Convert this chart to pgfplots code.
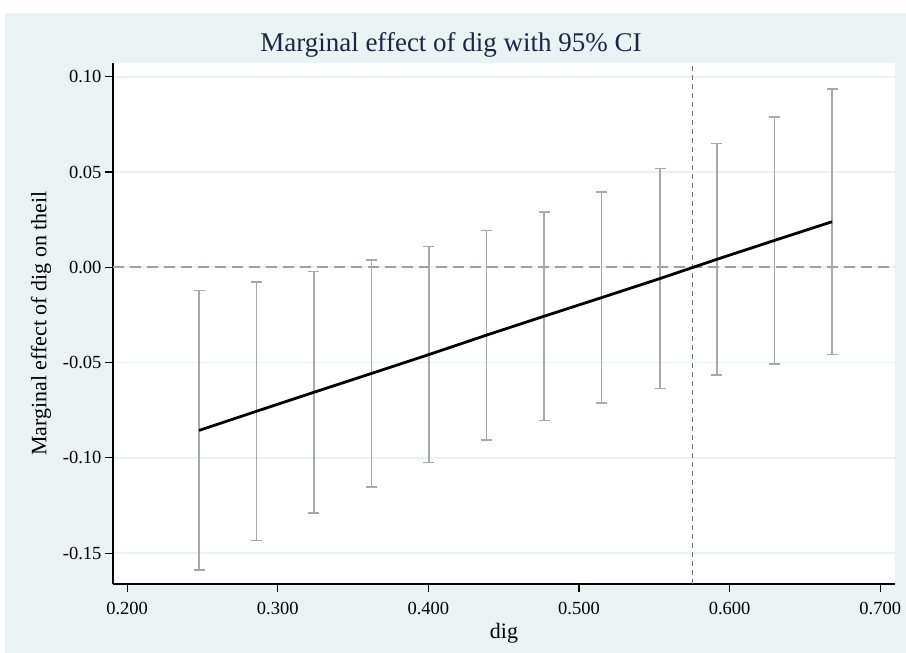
\documentclass[border=0pt]{standalone}
\usepackage{fontspec}
\setmainfont{Liberation Serif}
\usepackage{pgfplots}
\pgfplotsset{compat=1.18}
\usepackage{pgfplotstable}

\definecolor{bgcol}{RGB}{234,242,243}
\definecolor{titlecol}{RGB}{28,37,71}
\definecolor{cigray}{RGB}{168,168,168}
\definecolor{zerogray}{RGB}{160,160,160}
\definecolor{vgray}{RGB}{115,115,115}

% dig, marginal effect, lower and upper 95% CI
\pgfplotstableread{
x      me      lo      up
0.2477 -0.0856 -0.1589 -0.0123
0.2857 -0.0756 -0.1435 -0.0077
0.3240 -0.0656 -0.1290 -0.0023
0.3623 -0.0557 -0.1152  0.0038
0.4004 -0.0458 -0.1024  0.0108
0.4386 -0.0356 -0.0907  0.0194
0.4768 -0.0257 -0.0803  0.0290
0.5151 -0.0159 -0.0712  0.0395
0.5538 -0.0059 -0.0635  0.0518
0.5916  0.0042 -0.0565  0.0649
0.6298  0.0141 -0.0508  0.0789
0.6680  0.0239 -0.0459  0.0936
}\metable

\begin{document}
\begin{tikzpicture}
\fill[white] (-113pt,-69pt) rectangle (793pt,584pt);
\fill[bgcol] (-108pt,-69pt) rectangle (793pt,571pt);
\begin{axis}[
    at={(0pt,0pt)}, anchor=south west,
    scale only axis,
    width=782pt, height=521pt,
    xmin=0.1906, xmax=0.7098,
    ymin=-0.1662, ymax=0.1072,
    axis lines*=left,
    axis line style={black, line width=1.3pt},
    axis background/.style={fill=white},
    xtick={0.2,0.3,0.4,0.5,0.6,0.7},
    ytick={-0.15,-0.10,-0.05,0,0.05,0.10},
    xticklabel style={yshift=-7pt, /pgf/number format/.cd, fixed, fixed zerofill, precision=3},
    yticklabel style={/pgf/number format/.cd, fixed, fixed zerofill, precision=2},
    /pgf/number format/assume math mode=true,
    tick align=outside,
    major tick length=8pt,
    tick style={black, line width=1.2pt},
    xtick pos=left, ytick pos=left,
    ymajorgrids,
    grid style={bgcol, line width=1.6pt},
    tick label style={font=\fontsize{18.5}{20}\selectfont},
    xlabel style={at={(axis description cs:0.5,-0.094)}, anchor=center,
        font=\fontsize{22}{24}\selectfont},
    ylabel style={at={(axis description cs:-0.0921,0.5)}, rotate=0, anchor=center,
        font=\fontsize{22}{24}\selectfont},
    xlabel={dig},
    ylabel={Marginal effect of dig on theil},
    clip=false,
]
\addplot[zerogray, line width=1.8pt, dash pattern=on 11pt off 6pt]
    coordinates {(0.1906,0) (0.7098,0)};
\addplot[vgray, line width=1.8pt, dash pattern=on 5pt off 4pt]
    coordinates {(0.5753,-0.1662) (0.5753,0.1072)};
\addplot[draw=none, mark=none,
    error bars/.cd, y dir=both, y explicit,
    error bar style={draw=cigray, line width=1.4pt},
    error mark options={draw=cigray, line width=1.4pt, mark size=5.5pt, rotate=90}]
    table[x=x, y=me,
          y error plus expr=\thisrow{up}-\thisrow{me},
          y error minus expr=\thisrow{me}-\thisrow{lo}] {\metable};
\addplot[black, mark=none, line width=2.8pt] table[x=x, y=me] {\metable};
\end{axis}
\node[anchor=base, text=titlecol, font=\fontsize{27}{30}\selectfont]
    at (338pt,532pt) {Marginal effect of dig with 95\% CI};
\end{tikzpicture}
\end{document}
